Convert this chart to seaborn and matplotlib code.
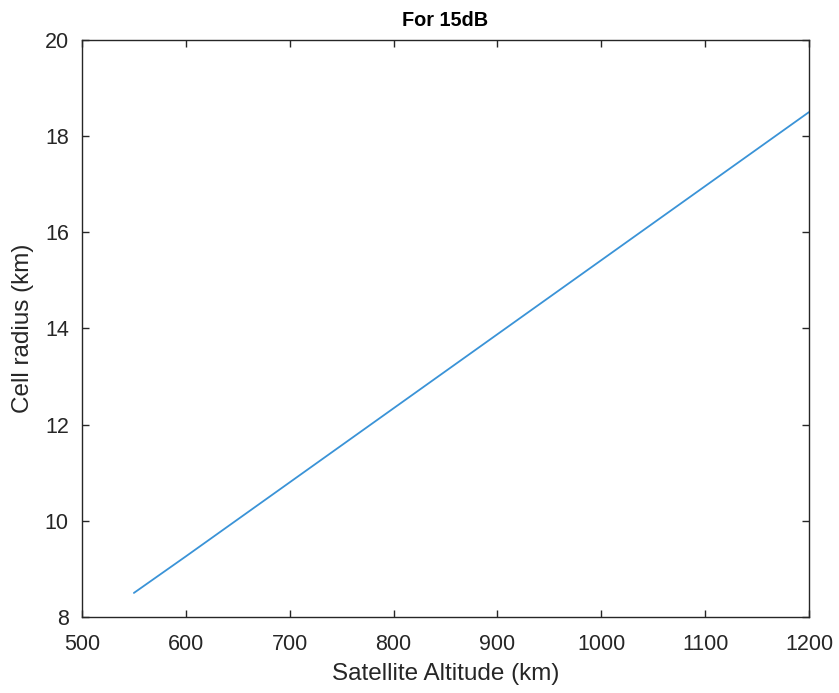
import matplotlib
matplotlib.use("Agg")
import matplotlib.pyplot as plt
import seaborn as sns
import pandas as pd

# Cell radius versus satellite altitude at 15 dB
altitude_km = [550, 600, 650, 700, 750, 800, 850, 900, 950, 1000, 1050, 1100, 1150, 1200]
cell_radius_km = [8.50, 9.26, 10.03, 10.80, 11.57, 12.34, 13.11, 13.88, 14.65, 15.42, 16.19, 16.96, 17.73, 18.50]
x_ticks = [500, 600, 700, 800, 900, 1000, 1100, 1200]
y_ticks = [8, 10, 12, 14, 16, 18, 20]

df = pd.DataFrame({"altitude": altitude_km, "radius": cell_radius_km})

sns.set_style("white")
plt.rcParams["font.family"] = ["Liberation Sans", "DejaVu Sans"]

fig = plt.figure(figsize=(8.39, 6.93), dpi=100)
ax = fig.add_axes([0.0977, 0.1097, 0.8665, 0.8326])

sns.lineplot(data=df, x="altitude", y="radius", ax=ax, color="#3a93d7", linewidth=1.3)

ax.set_xlim(500, 1200)
ax.set_ylim(8, 20)
ax.set_xticks(x_ticks)
ax.set_yticks(y_ticks)

text_color = "#262626"
for side in ["left", "right", "top", "bottom"]:
    ax.spines[side].set_visible(True)
    ax.spines[side].set_color(text_color)
    ax.spines[side].set_linewidth(1.0)

ax.tick_params(axis="both", which="both", direction="in", length=5, width=1.0,
               colors=text_color, labelsize=15.5, top=True, right=True,
               bottom=True, left=True)
ax.tick_params(axis="x", pad=12)
ax.tick_params(axis="y", pad=9.5)
for lbl in ax.get_xticklabels() + ax.get_yticklabels():
    lbl.set_color(text_color)

ax.set_xlabel("Satellite Altitude (km)", fontsize=17.5, color=text_color)
ax.set_ylabel("Cell radius (km)", fontsize=17.5, color=text_color)
ax.xaxis.set_label_coords(0.5, -0.0988)
ax.xaxis.label.set_va("center")
ax.yaxis.set_label_coords(-0.081, 0.5)
ax.yaxis.label.set_va("center")
ax.set_title("For 15dB", fontsize=14.3, fontweight="bold", color="black", pad=10)

fig.savefig("out.png", dpi=100, facecolor="white")
